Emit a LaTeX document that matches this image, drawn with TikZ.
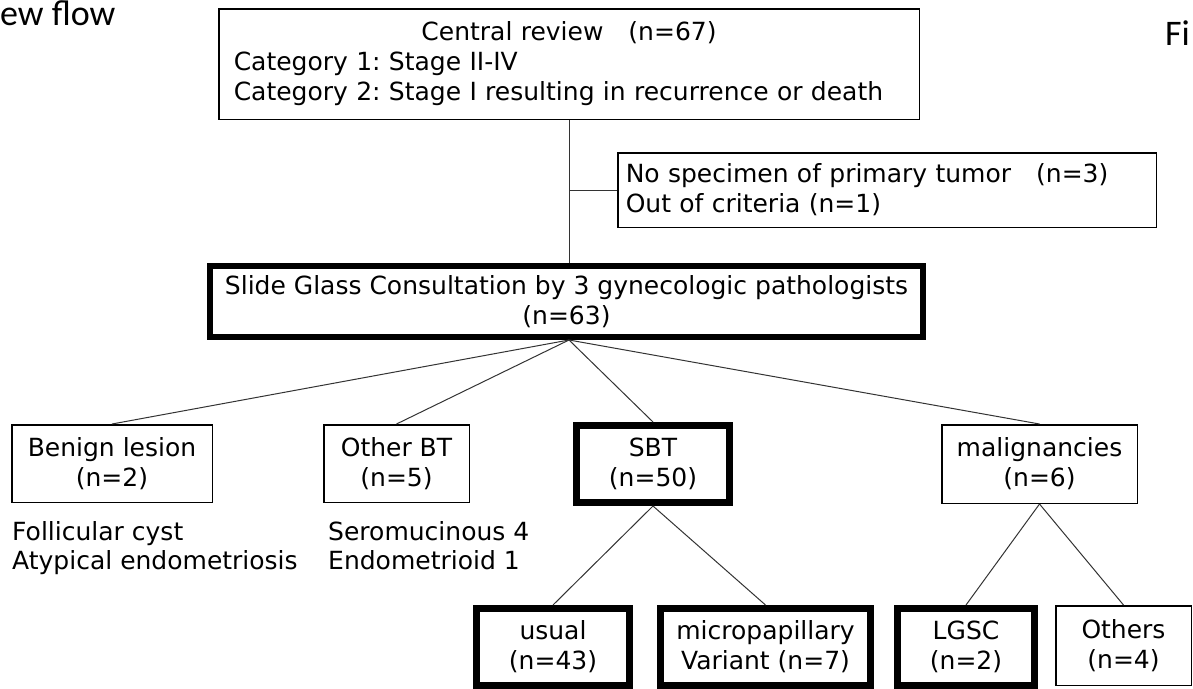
\documentclass[tikz,border=0pt]{standalone}
\usepackage{fontspec}
\setmainfont{DejaVu Sans}
\newfontfamily\calfont{Carlito}
\frenchspacing
\begin{document}
\begin{tikzpicture}[x=1pt,y=-1pt,
  box/.style={draw=black,line width=1.5pt,rectangle,inner sep=0pt,align=center,font=\fontsize{25}{30}\selectfont},
  thickbox/.style={box,line width=7pt},
  link/.style={draw=black!80,line width=1pt},
  plain/.style={inner sep=0pt,anchor=north west,align=left,font=\fontsize{25}{29}\selectfont}]
\useasboundingbox (0,0) rectangle (1193,688);
\clip (0,0) rectangle (1193,688);
\node[anchor=base west,inner sep=0pt,font=\calfont\fontsize{36}{36}\selectfont] (title) at (0,25) {ew flow};
\node[anchor=base west,inner sep=0pt,font=\calfont\fontsize{36}{36}\selectfont] (fig) at (1165,45) {Fi};

\node[box,minimum height=110.5,text width=670.5,inner xsep=15pt,align=left] (central) at (569,64)
 {\makebox[\linewidth][c]{Central review\hspace{1em}(n=67)}\\Category 1: Stage II-IV\\Category 2: Stage I resulting in recurrence or death};
\node[box,minimum height=74.5,text width=522.5,inner xsep=8pt,align=left] (excl) at (887,190)
 {No specimen of primary tumor\hspace{1em}(n=3)\\Out of criteria (n=1)};
\node[thickbox,line width=6pt,minimum width=713,minimum height=71] (slide) at (566.5,301.5)
 {Slide Glass Consultation by 3 gynecologic pathologists\\(n=63)};
\draw[link] (central.south) -- (central.south |- slide.north);
\draw[link] (central.south |- excl.west) -- (excl.west);

\node[box,minimum width=200.5,minimum height=77.5] (benign) at (112,463.5) {Benign lesion\\(n=2)};
\node[box,minimum width=145.5,minimum height=77.5] (other) at (396.5,463.5) {Other BT\\(n=5)};
\node[thickbox,minimum width=153,minimum height=77] (sbt) at (653,464) {SBT\\(n=50)};
\node[box,minimum width=195.5,minimum height=78.5] (malig) at (1039.5,464) {malignancies\\(n=6)};

\node[plain] (bnote) at (12,521) {Follicular cyst\\Atypical endometriosis};
\node[plain] (onote) at (328,521) {Seromucinous 4\\Endometrioid 1};

\coordinate (sb) at (569,340);
\draw[link] (sb) -- (benign.north);
\draw[link] (sb) -- (other.north);
\draw[link] (sb) -- (sbt.north);
\draw[link] (sb) -- (malig.north);

\node[thickbox,minimum width=153,minimum height=77] (usual) at (553,647) {usual\\(n=43)};
\node[thickbox,minimum width=210,minimum height=77] (micro) at (765.5,647) {micropapillary\\Variant (n=7)};
\node[thickbox,minimum width=137,minimum height=77] (lgsc) at (966,647) {LGSC\\(n=2)};
\node[box,minimum width=135.5,minimum height=79.5] (others) at (1123.5,645.5) {Others\\(n=4)};

\draw[link] (sbt.south) -- (usual.north);
\draw[link] (sbt.south) -- (micro.north);
\draw[link] (malig.south) -- (lgsc.north);
\draw[link] (malig.south) -- (others.north);
\end{tikzpicture}
\end{document}
